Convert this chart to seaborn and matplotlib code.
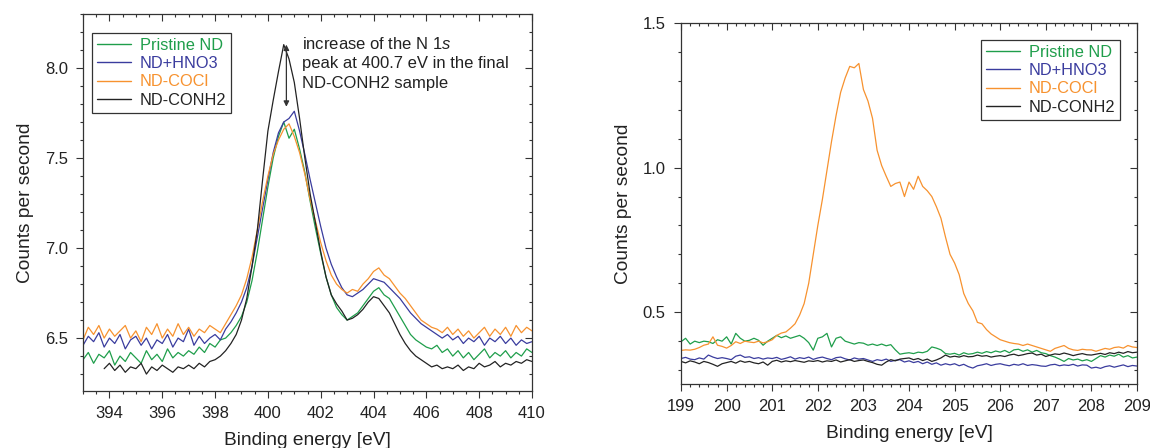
import numpy as np
import pandas as pd
import matplotlib
matplotlib.use('Agg')
import matplotlib.pyplot as plt
from matplotlib.ticker import MultipleLocator
import seaborn as sns

# -------------------------
# DATA
# -------------------------
samples = ['Pristine ND', 'ND+HNO3', 'ND-COCl', 'ND-CONH2']
colors = ['#1f9e4b', '#3a3c9e', '#f7922f', '#232323']

# N 1s region: 393.0 ... 410.0 eV, 0.2 eV steps
n1s_energy = np.linspace(393.0, 410.0, 86)
n1s_pristine = [
    6.38, 6.42, 6.36, 6.41, 6.39, 6.43, 6.35, 6.40, 6.37, 6.42,
    6.39, 6.36, 6.43, 6.38, 6.41, 6.37, 6.44, 6.39, 6.42, 6.40,
    6.43, 6.41, 6.45, 6.42, 6.47, 6.45, 6.49, 6.50, 6.53, 6.57,
    6.62, 6.70, 6.82, 6.98, 7.16, 7.34, 7.50, 7.62, 7.70, 7.61,
    7.66, 7.55, 7.42, 7.26, 7.11, 6.97, 6.84, 6.74, 6.67, 6.63,
    6.60, 6.62, 6.64, 6.68, 6.72, 6.76, 6.78, 6.74, 6.72, 6.67,
    6.62, 6.57, 6.52, 6.49, 6.47, 6.45, 6.44, 6.46, 6.42, 6.44,
    6.40, 6.43, 6.39, 6.42, 6.38, 6.41, 6.44, 6.39, 6.42, 6.40,
    6.43, 6.39, 6.42, 6.40, 6.44, 6.42,
]
n1s_hno3 = [
    6.46, 6.51, 6.48, 6.53, 6.45, 6.50, 6.47, 6.52, 6.44, 6.49,
    6.51, 6.46, 6.50, 6.44, 6.49, 6.47, 6.52, 6.45, 6.50, 6.48,
    6.55, 6.46, 6.51, 6.47, 6.50, 6.52, 6.49, 6.55, 6.59, 6.64,
    6.70, 6.78, 6.90, 7.06, 7.22, 7.38, 7.53, 7.64, 7.70, 7.72,
    7.76, 7.65, 7.52, 7.38, 7.25, 7.12, 7.00, 6.91, 6.84, 6.78,
    6.74, 6.73, 6.75, 6.77, 6.80, 6.83, 6.82, 6.81, 6.78, 6.75,
    6.72, 6.68, 6.64, 6.61, 6.58, 6.56, 6.54, 6.52, 6.50, 6.52,
    6.49, 6.51, 6.47, 6.50, 6.48, 6.51, 6.46, 6.50, 6.48, 6.51,
    6.47, 6.50, 6.46, 6.49, 6.47, 6.48,
]
n1s_cocl = [
    6.49, 6.56, 6.52, 6.57, 6.50, 6.55, 6.51, 6.54, 6.57, 6.50,
    6.54, 6.48, 6.56, 6.52, 6.58, 6.50, 6.55, 6.51, 6.58, 6.52,
    6.56, 6.51, 6.55, 6.53, 6.57, 6.55, 6.53, 6.58, 6.63, 6.68,
    6.74, 6.83, 6.95, 7.10, 7.26, 7.40, 7.52, 7.60, 7.66, 7.69,
    7.62, 7.53, 7.41, 7.27, 7.15, 7.03, 6.93, 6.85, 6.80, 6.77,
    6.75, 6.77, 6.76, 6.80, 6.83, 6.87, 6.89, 6.85, 6.83, 6.79,
    6.75, 6.72, 6.68, 6.64, 6.60, 6.58, 6.56, 6.55, 6.53, 6.56,
    6.52, 6.55, 6.51, 6.54, 6.50, 6.53, 6.56, 6.51, 6.55, 6.52,
    6.56, 6.51, 6.57, 6.53, 6.56, 6.54,
]
n1s_conh2 = [
    np.nan, np.nan, np.nan, np.nan, 6.33, 6.36, 6.32, 6.35, 6.31, 6.34,
    6.33, 6.36, 6.30, 6.34, 6.32, 6.35, 6.33, 6.31, 6.34, 6.33,
    6.35, 6.33, 6.36, 6.34, 6.37, 6.38, 6.40, 6.43, 6.47, 6.52,
    6.60, 6.72, 6.90, 7.10, 7.38, 7.65, 7.82, 7.98, 8.13, 8.05,
    7.92, 7.72, 7.50, 7.30, 7.14, 6.98, 6.84, 6.74, 6.69, 6.65,
    6.60, 6.61, 6.63, 6.66, 6.70, 6.73, 6.72, 6.68, 6.64, 6.58,
    6.52, 6.47, 6.43, 6.40, 6.38, 6.36, 6.34, 6.35, 6.33, 6.34,
    6.33, 6.35, 6.32, 6.34, 6.33, 6.36, 6.34, 6.35, 6.37, 6.34,
    6.36, 6.35, 6.37, 6.36, 6.38, 6.37,
]

# Cl 2p region: 199.0 ... 209.0 eV, 0.1 eV steps
cl2p_energy = np.linspace(199.0, 209.0, 101)
cl2p_pristine = [
    0.398, 0.410, 0.390, 0.400, 0.395, 0.400, 0.398, 0.392, 0.405, 0.400,
    0.415, 0.390, 0.427, 0.410, 0.400, 0.403, 0.410, 0.403, 0.386, 0.400,
    0.410, 0.420, 0.412, 0.418, 0.410, 0.415, 0.420, 0.410, 0.395, 0.369,
    0.410, 0.415, 0.427, 0.380, 0.410, 0.415, 0.400, 0.395, 0.390, 0.395,
    0.393, 0.386, 0.390, 0.385, 0.390, 0.384, 0.388, 0.370, 0.355, 0.358,
    0.360, 0.357, 0.362, 0.360, 0.365, 0.380, 0.376, 0.370, 0.357, 0.355,
    0.358, 0.352, 0.360, 0.355, 0.357, 0.362, 0.358, 0.364, 0.360, 0.366,
    0.362, 0.368, 0.360, 0.370, 0.372, 0.365, 0.370, 0.362, 0.368, 0.360,
    0.357, 0.350, 0.345, 0.338, 0.330, 0.340, 0.335, 0.338, 0.332, 0.336,
    0.330, 0.340, 0.350, 0.345, 0.352, 0.348, 0.355, 0.345, 0.350, 0.342,
    0.345,
]
cl2p_hno3 = [
    0.340, 0.344, 0.338, 0.336, 0.342, 0.338, 0.352, 0.345, 0.340, 0.343,
    0.340, 0.336, 0.348, 0.352, 0.344, 0.346, 0.340, 0.343, 0.338, 0.342,
    0.340, 0.344, 0.337, 0.341, 0.346, 0.338, 0.343, 0.340, 0.345, 0.337,
    0.342, 0.345, 0.340, 0.336, 0.343, 0.345, 0.339, 0.335, 0.342, 0.338,
    0.340, 0.335, 0.330, 0.336, 0.333, 0.338, 0.330, 0.334, 0.336, 0.328,
    0.332, 0.326, 0.330, 0.322, 0.328, 0.320, 0.325, 0.317, 0.322, 0.318,
    0.322, 0.315, 0.320, 0.312, 0.307, 0.315, 0.318, 0.322, 0.316, 0.320,
    0.322, 0.318, 0.315, 0.320, 0.317, 0.322, 0.316, 0.319, 0.317, 0.314,
    0.313, 0.318, 0.320, 0.315, 0.318, 0.316, 0.320, 0.314, 0.318, 0.317,
    0.307, 0.310, 0.306, 0.312, 0.315, 0.310, 0.314, 0.318, 0.312, 0.316,
    0.314,
]
cl2p_cocl = [
    0.368, 0.370, 0.369, 0.372, 0.378, 0.386, 0.390, 0.415, 0.386, 0.382,
    0.376, 0.385, 0.398, 0.392, 0.400, 0.397, 0.395, 0.400, 0.394, 0.398,
    0.405, 0.420, 0.428, 0.432, 0.445, 0.460, 0.490, 0.530, 0.600, 0.700,
    0.800, 0.890, 0.990, 1.090, 1.180, 1.260, 1.310, 1.350, 1.345, 1.360,
    1.270, 1.230, 1.170, 1.060, 1.007, 0.970, 0.935, 0.945, 0.950, 0.900,
    0.950, 0.925, 0.970, 0.935, 0.920, 0.900, 0.865, 0.825, 0.760, 0.700,
    0.670, 0.630, 0.565, 0.530, 0.505, 0.465, 0.460, 0.440, 0.425, 0.415,
    0.405, 0.400, 0.395, 0.392, 0.390, 0.385, 0.390, 0.385, 0.380, 0.375,
    0.370, 0.365, 0.375, 0.380, 0.385, 0.375, 0.370, 0.368, 0.372, 0.370,
    0.370, 0.365, 0.370, 0.375, 0.372, 0.378, 0.380, 0.376, 0.385, 0.380,
    0.378,
]
cl2p_conh2 = [
    0.330, 0.325, 0.332, 0.328, 0.322, 0.330, 0.326, 0.320, 0.313, 0.322,
    0.326, 0.330, 0.324, 0.332, 0.327, 0.330, 0.325, 0.322, 0.328, 0.317,
    0.330, 0.334, 0.328, 0.332, 0.329, 0.333, 0.330, 0.327, 0.332, 0.330,
    0.333, 0.328, 0.332, 0.330, 0.335, 0.328, 0.332, 0.336, 0.330, 0.333,
    0.335, 0.330, 0.326, 0.320, 0.317, 0.328, 0.336, 0.332, 0.338, 0.340,
    0.342, 0.336, 0.340, 0.333, 0.338, 0.330, 0.335, 0.342, 0.352, 0.345,
    0.348, 0.345, 0.350, 0.346, 0.347, 0.352, 0.348, 0.350, 0.345, 0.348,
    0.350, 0.347, 0.352, 0.355, 0.350, 0.353, 0.357, 0.359, 0.352, 0.355,
    0.347, 0.352, 0.356, 0.354, 0.359, 0.355, 0.350, 0.354, 0.357, 0.353,
    0.352, 0.355, 0.358, 0.354, 0.360, 0.357, 0.362, 0.358, 0.364, 0.360,
    0.362,
]


def to_long(energy, series):
    frames = []
    for name, vals in zip(samples, series):
        frames.append(pd.DataFrame({'energy': energy, 'cps': vals, 'sample': name}))
    return pd.concat(frames, ignore_index=True).dropna()


n1s_df = to_long(n1s_energy, [n1s_pristine, n1s_hno3, n1s_cocl, n1s_conh2])
cl2p_df = to_long(cl2p_energy, [cl2p_pristine, cl2p_hno3, cl2p_cocl, cl2p_conh2])

# -------------------------
# STYLE
# -------------------------
sns.set_theme(style='ticks')
plt.rcParams['font.family'] = ['Liberation Sans', 'DejaVu Sans']
plt.rcParams['mathtext.fontset'] = 'custom'
plt.rcParams['mathtext.it'] = 'Liberation Sans:italic'
plt.rcParams['mathtext.rm'] = 'Liberation Sans'
edge = '#333333'
txt_color = '#222222'
palette = dict(zip(samples, colors))

fig = plt.figure(figsize=(11.5, 4.48), dpi=100)
ax1 = fig.add_axes([0.0722, 0.1272, 0.3904, 0.8415])
ax2 = fig.add_axes([0.5922, 0.1429, 0.3965, 0.8058])


def style_axes(ax, xmin, xmax, ymin, ymax, xmaj, xmin_step, ymaj, ymin_step):
    ax.set_xlim(xmin, xmax)
    ax.set_ylim(ymin, ymax)
    ax.xaxis.set_major_locator(MultipleLocator(xmaj))
    ax.xaxis.set_minor_locator(MultipleLocator(xmin_step))
    ax.yaxis.set_major_locator(MultipleLocator(ymaj))
    ax.yaxis.set_minor_locator(MultipleLocator(ymin_step))
    for s in ax.spines.values():
        s.set_visible(True)
        s.set_color(edge)
        s.set_linewidth(0.9)
    # left/bottom ticks point outward, mirrored right/top ticks point inward
    ax.tick_params(which='both', direction='out', top=False, right=False,
                   color=edge, width=0.8, labelsize=12, labelcolor=txt_color)
    ax.tick_params(which='major', length=5, pad=6)
    ax.tick_params(which='minor', length=2.5)
    sec_x = ax.secondary_xaxis('top')
    sec_x.xaxis.set_major_locator(MultipleLocator(xmaj))
    sec_x.xaxis.set_minor_locator(MultipleLocator(xmin_step))
    sec_x.tick_params(which='both', direction='in', labeltop=False, color=edge, width=0.8)
    sec_x.tick_params(which='major', length=5)
    sec_x.tick_params(which='minor', length=2.5)
    sec_x.spines['top'].set_visible(False)
    sec_y = ax.secondary_yaxis('right')
    sec_y.yaxis.set_major_locator(MultipleLocator(ymaj))
    sec_y.yaxis.set_minor_locator(MultipleLocator(ymin_step))
    sec_y.tick_params(which='both', direction='in', labelright=False, color=edge, width=0.8)
    sec_y.tick_params(which='major', length=5)
    sec_y.tick_params(which='minor', length=2.5)
    sec_y.spines['right'].set_visible(False)
    ax.set_xlabel('Binding energy [eV]', fontsize=13.8, labelpad=8, color=txt_color)
    ax.set_ylabel('Counts per second', fontsize=13.8, labelpad=8, color=txt_color)


def add_legend(ax, loc, anchor):
    handles, labels = ax.get_legend_handles_labels()
    leg = ax.legend(handles, labels, loc=loc, bbox_to_anchor=anchor, borderaxespad=0,
                    fontsize=11.8, frameon=True, fancybox=False, framealpha=1,
                    edgecolor=edge, handlelength=2.1, handletextpad=0.5,
                    labelspacing=0.2, borderpad=0.3)
    leg.get_frame().set_linewidth(0.9)
    for txt, line in zip(leg.get_texts(), leg.get_lines()):
        txt.set_color(line.get_color())
        line.set_linewidth(1.0)


# -------------------------
# LEFT: N 1s
# -------------------------
sns.lineplot(data=n1s_df, x='energy', y='cps', hue='sample', hue_order=samples,
             palette=palette, linewidth=0.9, ax=ax1, sort=False)
style_axes(ax1, 393, 410, 6.206, 8.3, 2, 0.5, 0.5, 0.1)
add_legend(ax1, 'upper left', (0.020, 0.950))

ax1.annotate('', xy=(400.7, 7.785), xytext=(400.7, 8.13),
             arrowprops=dict(arrowstyle='<|-|>', color=edge, lw=0.9,
                             mutation_scale=8, shrinkA=0, shrinkB=0))
ax1.text(401.28, 8.18, 'increase of the N 1$\\mathit{s}$\npeak at 400.7 eV in the final\nND-CONH2 sample',
         ha='left', va='top', fontsize=12, linespacing=1.4, color=txt_color)

# -------------------------
# RIGHT: Cl 2p
# -------------------------
sns.lineplot(data=cl2p_df, x='energy', y='cps', hue='sample', hue_order=samples,
             palette=palette, linewidth=0.9, ax=ax2, sort=False)
style_axes(ax2, 199, 209, 0.252, 1.5, 1, 0.2, 0.5, 0.1)
add_legend(ax2, 'upper right', (0.963, 0.953))

fig.savefig('out.png', dpi=100)
